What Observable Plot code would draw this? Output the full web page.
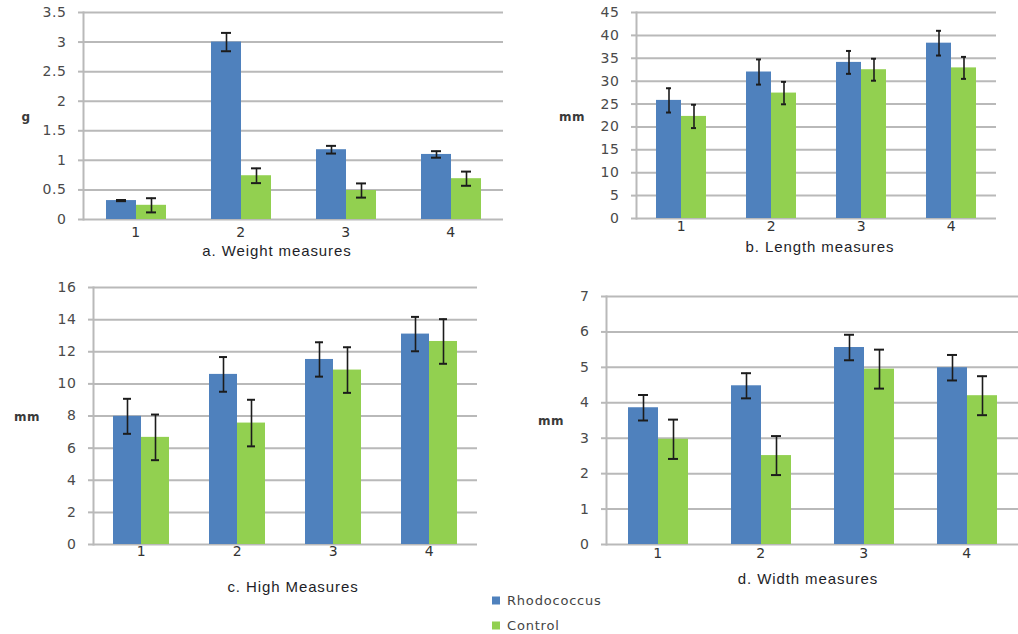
<!DOCTYPE html>
<html>
<head>
<meta charset="utf-8">
<script src="https://cdn.jsdelivr.net/npm/d3@7"></script>
<script src="https://cdn.jsdelivr.net/npm/@observablehq/plot@0.6"></script>
<style>
  html, body { margin: 0; padding: 0; background: #fff; }
  #root { position: relative; width: 1018px; height: 634px; overflow: hidden; font-family: "DejaVu Sans", sans-serif; }
  .panel { position: absolute; }
  .panel svg text { letter-spacing: 0.6px; }
  .title { position: absolute; font-family: "Liberation Sans", Arial, sans-serif; font-size: 15px; letter-spacing: 0.9px; color: #1e1e28; transform: translate(-50%, -50%); white-space: nowrap; }
  .ylab { position: absolute; font-family: "DejaVu Sans", sans-serif; font-size: 12px; font-weight: bold; color: #3a3a3a; transform: translate(-50%, -50%); letter-spacing: 0.5px; }
  .legend { position: absolute; font-size: 13px; color: #444; letter-spacing: 0.8px; display: flex; align-items: center; gap: 7px; transform: translateY(-50%); }
  .legend .sw { width: 8px; height: 8px; display: inline-block; }
</style>
</head>
<body>
<div id="root"></div>
<script>
// ---- data ----
const categories = ["1", "2", "3", "4"];
const series = ["Rhodococcus", "Control"];
const seriesColors = ["#4f81bd", "#92d050"];

const weightRhodo = [0.32, 3.0, 1.18, 1.10];
const weightRhodoErr = [0.01, 0.155, 0.065, 0.055];
const weightControl = [0.24, 0.74, 0.49, 0.69];
const weightControlErr = [0.12, 0.125, 0.12, 0.12];
const weightTicks = [0, 0.5, 1, 1.5, 2, 2.5, 3, 3.5];

const lengthRhodo = [25.8, 32.0, 34.1, 38.3];
const lengthRhodoErr = [2.65, 2.75, 2.5, 2.7];
const lengthControl = [22.3, 27.4, 32.5, 32.9];
const lengthControlErr = [2.55, 2.45, 2.4, 2.4];
const lengthTicks = [0, 5, 10, 15, 20, 25, 30, 35, 40, 45];

const highRhodo = [7.98, 10.59, 11.52, 13.1];
const highRhodoErr = [1.09, 1.08, 1.07, 1.07];
const highControl = [6.67, 7.56, 10.86, 12.64];
const highControlErr = [1.42, 1.45, 1.42, 1.39];
const highTicks = [0, 2, 4, 6, 8, 10, 12, 14, 16];

const widthRhodo = [3.86, 4.48, 5.56, 4.99];
const widthRhodoErr = [0.36, 0.355, 0.36, 0.36];
const widthControl = [2.97, 2.51, 4.95, 4.2];
const widthControlErr = [0.555, 0.55, 0.55, 0.55];
const widthTicks = [0, 1, 2, 3, 4, 5, 6, 7];

const panelTitles = ["a. Weight measures", "b. Length measures", "c. High Measures", "d. Width measures"];
const unitLabels = ["g", "mm", "mm", "mm"];

function rowsOf(r, re, c, ce) {
  return categories.flatMap((cat, i) => [
    {cat, series: series[0], v: r[i], e: re[i]},
    {cat, series: series[1], v: c[i], e: ce[i]}
  ]);
}

const panels = [
  {rows: rowsOf(weightRhodo, weightRhodoErr, weightControl, weightControlErr), ticks: weightTicks,
   left: 0, top: 0, width: 503, height: 250, ml: 83, mr: 0, mt: 12, mb: 31, po: 0.75, fxPad: 8,
   title: [277, 250], ylab: [26, 117]},
  {rows: rowsOf(lengthRhodo, lengthRhodoErr, lengthControl, lengthControlErr), ticks: lengthTicks,
   left: 500, top: 0, width: 496, height: 250, ml: 135, mr: 0, mt: 12, mb: 32, po: 0.76, fxPad: 3,
   title: [820, 246], ylab: [572, 117]},
  {rows: rowsOf(highRhodo, highRhodoErr, highControl, highControlErr), ticks: highTicks,
   left: 0, top: 270, width: 477, height: 300, ml: 93, mr: 0, mt: 17, mb: 26, po: 0.71, fxPad: 2,
   title: [293, 586], ylab: [27, 417]},
  {rows: rowsOf(widthRhodo, widthRhodoErr, widthControl, widthControlErr), ticks: widthTicks,
   left: 500, top: 280, width: 518, height: 300, ml: 105, mr: 0, mt: 16, mb: 36, po: 0.71, fxPad: 4,
   title: [808, 578], ylab: [551, 421]}
];

const root = document.getElementById("root");
const gridColor = "#b9b9b9";

panels.forEach((p, k) => {
  const chart = Plot.plot({
    width: p.width, height: p.height,
    marginLeft: p.ml, marginRight: p.mr, marginTop: p.mt, marginBottom: p.mb,
    style: {fontFamily: "DejaVu Sans, sans-serif", fontSize: "13px", color: "#4a4a4a", background: "transparent", overflow: "visible"},
    fx: {domain: categories, padding: 0, label: null},
    x: {domain: series, paddingInner: 0, paddingOuter: p.po, axis: null},
    y: {domain: [0, p.ticks[p.ticks.length - 1]], label: null},
    color: {domain: series, range: seriesColors},
    marks: [
      Plot.ruleY(p.ticks, {stroke: gridColor, strokeWidth: 2}),
      Plot.barY(p.rows, {fx: "cat", x: "series", y: "v", fill: "series"}),
      Plot.ruleX(p.rows, {fx: "cat", x: "series", y1: d => d.v - d.e, y2: d => d.v + d.e, stroke: "#1c1c1c", strokeWidth: 1.6}),
      Plot.tickY(p.rows, {fx: "cat", x: "series", y: d => d.v + d.e, stroke: "#1c1c1c", strokeWidth: 2, insetLeft: 10, insetRight: 10}),
      Plot.tickY(p.rows, {fx: "cat", x: "series", y: d => d.v - d.e, stroke: "#1c1c1c", strokeWidth: 2, insetLeft: 10, insetRight: 10}),
      Plot.frame({anchor: "left", facetAnchor: "left", stroke: gridColor, strokeWidth: 2}),
      Plot.axisY({ticks: p.ticks, tickFormat: d => String(d), tickSize: 5, tickPadding: 12, stroke: gridColor, strokeWidth: 2, fill: "#4a4a4a", label: null, fontSize: 14}),
      Plot.axisFx({anchor: "bottom", tickSize: 0, tickPadding: p.fxPad, label: null, fill: "#333", fontSize: 14})
    ]
  });
  const wrap = document.createElement("div");
  wrap.className = "panel";
  wrap.style.left = p.left + "px";
  wrap.style.top = p.top + "px";
  wrap.appendChild(chart);
  root.appendChild(wrap);

  const t = document.createElement("div");
  t.className = "title";
  t.textContent = panelTitles[k];
  t.style.left = p.title[0] + "px";
  t.style.top = p.title[1] + "px";
  root.appendChild(t);

  const yl = document.createElement("div");
  yl.className = "ylab";
  yl.textContent = unitLabels[k];
  yl.style.left = p.ylab[0] + "px";
  yl.style.top = p.ylab[1] + "px";
  root.appendChild(yl);
});

series.forEach((s, i) => {
  const lg = document.createElement("div");
  lg.className = "legend";
  lg.style.left = "492px";
  lg.style.top = (600 + i * 25) + "px";
  lg.innerHTML = `<span class="sw" style="background:${seriesColors[i]}"></span><span>${s}</span>`;
  root.appendChild(lg);
});
</script>
</body>
</html>
